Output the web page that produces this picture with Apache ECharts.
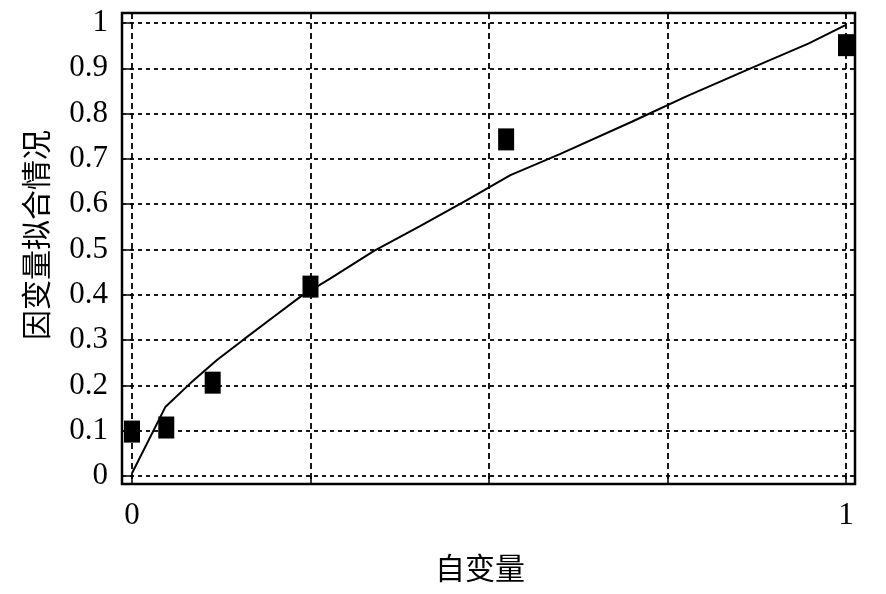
<!DOCTYPE html>
<html>
<head>
<meta charset="utf-8">
<script src="https://cdn.jsdelivr.net/npm/echarts@6/dist/echarts.min.js"></script>
<style>
html,body{margin:0;padding:0;background:#fff;}
#chart{width:886px;height:594px;}
</style>
</head>
<body>
<div id="chart"></div>
<script>
// Observed data points
const pointX = [0, 0.048, 0.113, 0.25, 0.524, 1.0];
const pointY = [0.098, 0.107, 0.206, 0.418, 0.743, 0.951];
// Fitted curve
const curveX = [0, 0.047, 0.082, 0.119, 0.157, 0.199, 0.236, 0.278, 0.339, 0.404, 0.469, 0.530, 0.600, 0.700, 0.778, 0.864, 0.948, 1.0];
const curveY = [0.006, 0.153, 0.205, 0.256, 0.302, 0.352, 0.396, 0.436, 0.497, 0.552, 0.609, 0.664, 0.711, 0.782, 0.839, 0.898, 0.955, 0.996];
// Ticks
const xTicks = [0, 0.25, 0.5, 0.75, 1];
const xLabels = [0, 1];
const yTicks = [0, 0.1, 0.2, 0.3, 0.4, 0.5, 0.6, 0.7, 0.8, 0.9, 1];
const xTitle = '自变量';
const yTitle = '因变量拟合情况';

const chart = echarts.init(document.getElementById('chart'));
const fmt = v => {
  const r = Math.round(v * 10) / 10;
  return String(r);
};
const labelFont = {fontFamily: 'Liberation Serif', fontSize: 31, color: '#000'};
chart.setOption({
  animation: false,
  backgroundColor: '#fff',
  grid: {
    left: 122, right: 31, top: 13, bottom: 110,
    show: true, borderColor: '#000', borderWidth: 2.5, backgroundColor: 'transparent'
  },
  xAxis: {
    type: 'value', min: -0.014, max: 1.0126,
    axisLine: {show: false},
    axisTick: {show: true, inside: false, length: 7, customValues: xTicks, lineStyle: {color: '#000', width: 1.5}},
    axisLabel: Object.assign({customValues: xLabels, margin: 16, formatter: fmt}, labelFont),
    splitLine: {show: true, customValues: xTicks, lineStyle: {color: '#000', width: 1.8, type: [6, 4]}}
  },
  yAxis: {
    type: 'value', min: -0.0177, max: 1.022,
    axisLine: {show: false},
    axisTick: {show: true, inside: false, length: 6, customValues: yTicks, lineStyle: {color: '#000', width: 1.5}},
    axisLabel: Object.assign({customValues: yTicks, margin: 14, formatter: fmt}, labelFont),
    splitLine: {show: true, lineStyle: {color: '#000', width: 1.8, type: [4, 4]}}
  },
  graphic: [
    {type: 'text', x: 480, y: 568, style: {text: xTitle, font: '30px "Noto Sans CJK SC"', fill: '#000', align: 'center', verticalAlign: 'middle'}},
    {type: 'text', x: 36, y: 235, rotation: Math.PI / 2, style: {text: yTitle, font: '30px "Noto Sans CJK SC"', fill: '#000', align: 'center', verticalAlign: 'middle'}}
  ],
  series: [
    {
      type: 'line',
      data: curveX.map((x, i) => [x, curveY[i]]),
      showSymbol: false,
      lineStyle: {color: '#000', width: 2},
      z: 3
    },
    {
      type: 'scatter',
      data: pointX.map((x, i) => [x, pointY[i]]),
      symbol: 'rect',
      symbolSize: [16, 22],
      itemStyle: {color: '#000', opacity: 1},
      z: 4
    }
  ]
});
</script>
</body>
</html>
